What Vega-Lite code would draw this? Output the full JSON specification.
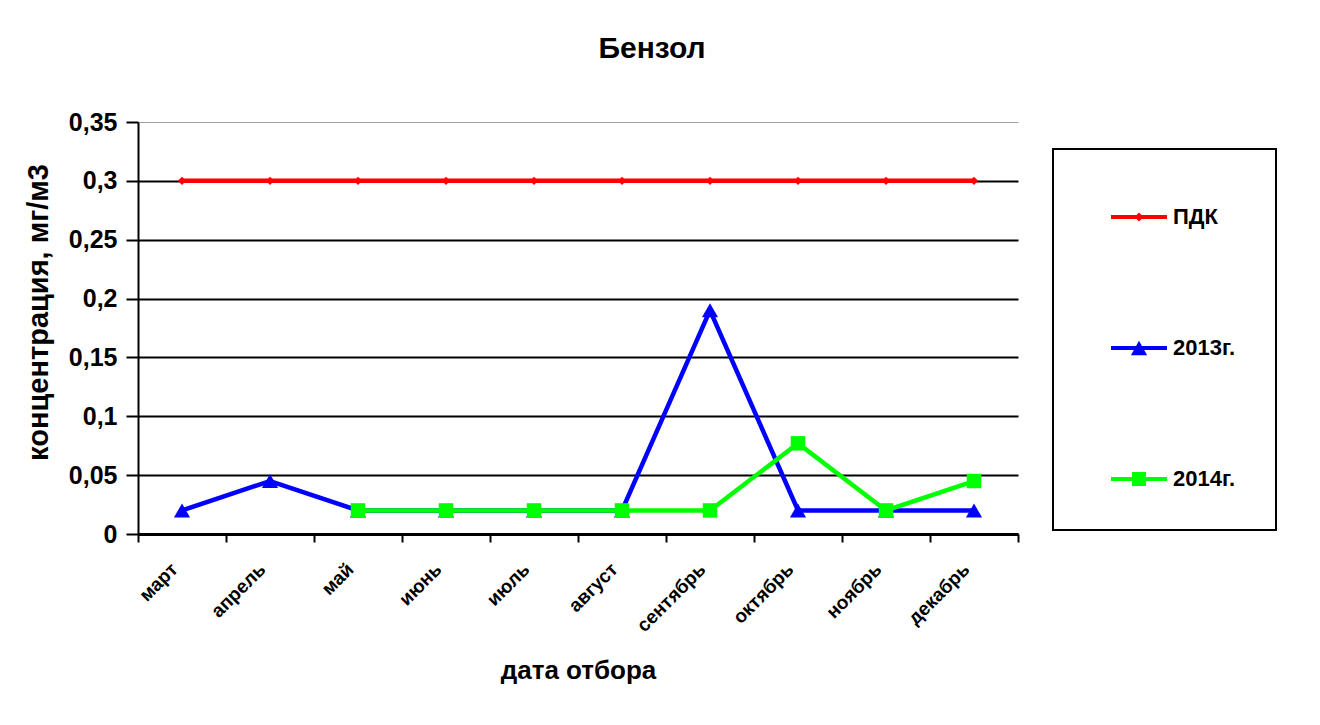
{
  "$schema": "https://vega.github.io/schema/vega-lite/v6.json",
  "autosize": "none",
  "width": 880,
  "height": 412,
  "padding": {"left": 138, "top": 122, "right": 302, "bottom": 191},
  "background": "white",
  "title": {
    "text": "Бензол",
    "font": "Liberation Sans",
    "fontSize": 30,
    "fontWeight": "bold",
    "color": "black",
    "anchor": "middle",
    "baseline": "alphabetic",
    "offset": 22,
    "dx": 74
  },
  "data": {
    "values": [
      {"month": "март", "series": "ПДК", "value": 0.3},
      {"month": "апрель", "series": "ПДК", "value": 0.3},
      {"month": "май", "series": "ПДК", "value": 0.3},
      {"month": "июнь", "series": "ПДК", "value": 0.3},
      {"month": "июль", "series": "ПДК", "value": 0.3},
      {"month": "август", "series": "ПДК", "value": 0.3},
      {"month": "сентябрь", "series": "ПДК", "value": 0.3},
      {"month": "октябрь", "series": "ПДК", "value": 0.3},
      {"month": "ноябрь", "series": "ПДК", "value": 0.3},
      {"month": "декабрь", "series": "ПДК", "value": 0.3},
      {"month": "март", "series": "2013г.", "value": 0.02},
      {"month": "апрель", "series": "2013г.", "value": 0.045},
      {"month": "май", "series": "2013г.", "value": 0.02},
      {"month": "июнь", "series": "2013г.", "value": 0.02},
      {"month": "июль", "series": "2013г.", "value": 0.02},
      {"month": "август", "series": "2013г.", "value": 0.02},
      {"month": "сентябрь", "series": "2013г.", "value": 0.19},
      {"month": "октябрь", "series": "2013г.", "value": 0.02},
      {"month": "ноябрь", "series": "2013г.", "value": 0.02},
      {"month": "декабрь", "series": "2013г.", "value": 0.02},
      {"month": "май", "series": "2014г.", "value": 0.02},
      {"month": "июнь", "series": "2014г.", "value": 0.02},
      {"month": "июль", "series": "2014г.", "value": 0.02},
      {"month": "август", "series": "2014г.", "value": 0.02},
      {"month": "сентябрь", "series": "2014г.", "value": 0.02},
      {"month": "октябрь", "series": "2014г.", "value": 0.077},
      {"month": "ноябрь", "series": "2014г.", "value": 0.02},
      {"month": "декабрь", "series": "2014г.", "value": 0.045}
    ]
  },
  "encoding": {
    "x": {
      "field": "month",
      "type": "nominal",
      "bandPosition": 0.5,
      "sort": ["март", "апрель", "май", "июнь", "июль", "август", "сентябрь", "октябрь", "ноябрь", "декабрь"],
      "scale": {"type": "band", "paddingInner": 0, "paddingOuter": 0},
      "axis": {
        "title": "дата отбора",
        "titleFont": "Liberation Sans",
        "titleFontSize": 26,
        "titleFontWeight": "bold",
        "titleColor": "black",
        "titlePadding": 22,
        "labelFont": "Liberation Sans",
        "labelFontSize": 19,
        "labelFontWeight": "bold",
        "labelColor": "black",
        "labelAngle": -45,
        "labelAlign": "right",
        "labelBaseline": "middle",
        "labelPadding": 24,
        "labelOffset": -8,
        "tickBand": "extent",
        "tickSize": 8,
        "tickWidth": 2,
        "tickColor": "black",
        "domainColor": "black",
        "domainWidth": 3,
        "grid": false
      }
    },
    "y": {
      "field": "value",
      "type": "quantitative",
      "scale": {"domain": [0, 0.35], "nice": false},
      "axis": {
        "title": "концентрация, мг/м3",
        "titleFont": "Liberation Sans",
        "titleFontSize": 29,
        "titleFontWeight": "bold",
        "titleColor": "black",
        "titleAngle": -90,
        "titleAlign": "center",
        "titleBaseline": "middle",
        "titleX": -100,
        "titleY": 190,
        "values": [0, 0.05, 0.1, 0.15, 0.2, 0.25, 0.3, 0.35],
        "labelExpr": "replace(toString(datum.value), '.', ',')",
        "labelFont": "Liberation Sans",
        "labelFontSize": 25,
        "labelFontWeight": "bold",
        "labelColor": "black",
        "labelPadding": 9,
        "tickSize": 12,
        "tickWidth": 2,
        "tickColor": "black",
        "domainColor": "black",
        "domainWidth": 2,
        "grid": true,
        "gridColor": {"condition": {"test": "datum.value >= 0.35", "value": "#a0a0a0"}, "value": "black"},
        "gridWidth": {"condition": {"test": "datum.value >= 0.35", "value": 1}, "value": 2},
        "gridOpacity": 1
      }
    },
    "color": {
      "field": "series",
      "type": "nominal",
      "scale": {"domain": ["ПДК", "2013г.", "2014г."], "range": ["#ff0000", "#0000ff", "#00ff00"]},
      "legend": {
        "title": null,
        "orient": "none",
        "legendX": 915,
        "legendY": 27,
        "padding": 40,
        "symbolOffset": 18,
        "symbolSize": 3136,
        "rowPadding": 92,
        "labelFont": "Liberation Sans",
        "labelFontSize": 22,
        "labelFontWeight": "bold",
        "labelColor": "black",
        "labelOffset": 6,
        "strokeColor": "black",
        "symbolStrokeWidth": 0
      }
    }
  },
  "layer": [
    {
      "mark": {"type": "line", "strokeWidth": 4.5}
    },
    {
      "transform": [{"filter": {"field": "series", "equal": "ПДК"}}],
      "mark": {"type": "point", "shape": "diamond", "filled": true, "size": 70, "opacity": 1}
    },
    {
      "transform": [{"filter": {"field": "series", "equal": "2013г."}}],
      "mark": {"type": "point", "shape": "triangle-up", "filled": true, "size": 260, "opacity": 1}
    },
    {
      "transform": [{"filter": {"field": "series", "equal": "2014г."}}],
      "mark": {"type": "point", "shape": "square", "filled": true, "size": 210, "opacity": 1}
    },
    {
      "transform": [{"filter": {"field": "value", "gt": 1}}],
      "mark": {"type": "point", "filled": true, "size": 3136, "opacity": 1, "strokeWidth": 0},
      "encoding": {
        "shape": {
          "field": "series",
          "type": "nominal",
          "scale": {
            "domain": ["ПДК", "2013г.", "2014г."],
            "range": [
              "M-1,-0.07H1V0.07H-1Z M0,-0.16L0.16,0L0,0.16L-0.16,0Z",
              "M-1,-0.07H1V0.07H-1Z M-0.29,0.26L0,-0.26L0.29,0.26Z",
              "M-1,-0.07H1V0.07H-1Z M-0.25,-0.25H0.25V0.25H-0.25Z"
            ]
          },
          "legend": {
            "title": null,
            "orient": "none",
            "legendX": 915,
            "legendY": 27,
            "padding": 40,
            "symbolOffset": 18,
            "symbolSize": 3136,
            "rowPadding": 92,
            "labelFont": "Liberation Sans",
            "labelFontSize": 22,
            "labelFontWeight": "bold",
            "labelColor": "black",
            "labelOffset": 6,
            "strokeColor": "black",
            "symbolStrokeWidth": 0
          }
        }
      }
    }
  ],
  "config": {
    "view": {"stroke": null},
    "legend": {"strokeWidth": 2}
  }
}
